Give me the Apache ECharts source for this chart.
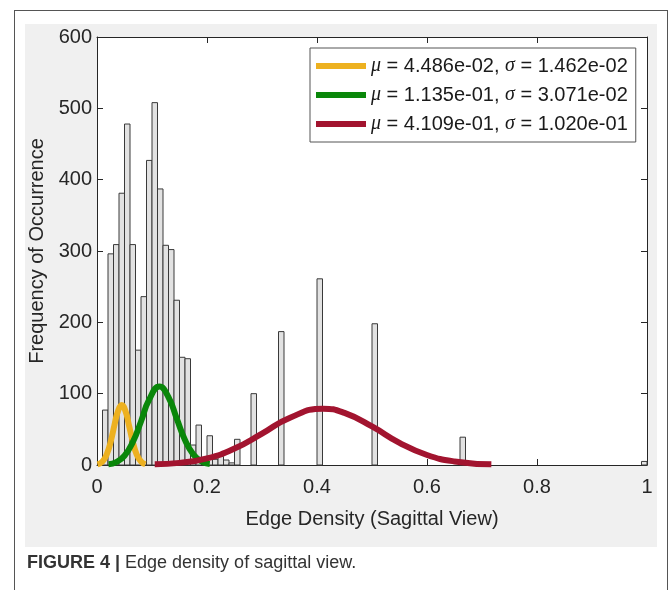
<html lang="en">
  <head>
    <meta charset="UTF-8" />
    <title>Edge density of sagittal view</title>
    <style>
      body { margin: 0; background: #fff; }
      #frame { position: absolute; left: 14px; top: 10px; width: 652px; height: 620px; border: 1px solid #555; }
      #panel { position: absolute; left: 25px; top: 24px; width: 632px; height: 523px; background: #f0f0f0; }
      #main { position: absolute; left: 0; top: 0; width: 669px; height: 590px; }
    </style>
  </head>
  <body>
    <div id="frame"></div>
    <div id="panel"></div>
    <div id="main"></div>

    <script src="https://cdn.jsdelivr.net/npm/echarts@6/dist/echarts.min.js"></script>
    <script>
      // histogram bins (left edge) and counts, bin width 0.01
      let binWidth = 0.01
      let binLeft = [0.01, 0.02, 0.03, 0.04, 0.05, 0.06, 0.07, 0.08, 0.09, 0.10,
        0.11, 0.12, 0.13, 0.14, 0.15, 0.16, 0.17, 0.18, 0.19, 0.20,
        0.21, 0.22, 0.23, 0.24, 0.25, 0.28, 0.33, 0.40, 0.50, 0.66, 0.99]
      let binCount = [77, 296, 309, 381, 478, 309, 161, 236, 427, 508,
        387, 308, 302, 231, 151, 149, 28, 56, 6, 41,
        8, 12, 7, 3, 36, 100, 187, 261, 198, 39, 5]

      // fitted curves, points
      let yellowX = [0.001, 0.010, 0.018, 0.025, 0.032, 0.038, 0.045, 0.052, 0.058, 0.065, 0.072, 0.080, 0.088]
      let yellowY = [0.9, 4.9, 15.5, 33, 57, 75, 84, 75, 56, 33, 15, 5, 1]
      let greenX = [0.021, 0.035, 0.050, 0.065, 0.080, 0.095, 0.1135, 0.130, 0.145, 0.160, 0.175, 0.190, 0.205]
      let greenY = [1.2, 4, 13, 32, 61, 92, 110, 95, 65, 35, 15, 5, 1.3]
      let redX = [0.105, 0.15, 0.20, 0.25, 0.30, 0.35, 0.411, 0.45, 0.50, 0.55, 0.60, 0.65, 0.717]
      let redY = [0.9, 3, 9.3, 23, 44, 66, 79, 73, 54, 31, 14, 5, 0.9]

      let muText = ['4.486e-02', '1.135e-01', '4.109e-01']
      let sigmaText = ['1.462e-02', '3.071e-02', '1.020e-01']
      let curveColors = ['#EDB120', '#0A870A', '#A2142F']

      let xTicks = { min: 0, max: 1, interval: 0.2 }
      let yTicks = { min: 0, max: 600, interval: 100 }

      let names = muText.map((m, i) => 'μ = ' + m + ', σ = ' + sigmaText[i])
      let toPairs = (xs, ys) => xs.map((x, i) => [x, ys[i]])

      let axisColor = '#262626'
      let font = 'Liberation Sans, Arial, sans-serif'

      // box-style axis: ticks inside, line never moved to zero
      function boxAxis(extra, isX) {
        return Object.assign({
          type: 'value',
          min: isX ? xTicks.min : yTicks.min,
          max: isX ? xTicks.max : yTicks.max,
          interval: isX ? xTicks.interval : yTicks.interval,
          axisLine: { show: true, onZero: false, lineStyle: { color: axisColor, width: 1 } },
          axisTick: { show: true, inside: true, length: 6, lineStyle: { color: axisColor } },
          splitLine: { show: false },
          axisLabel: { show: false }
        }, extra)
      }

      let myChart = echarts.init(document.getElementById('main'))
      let option = {
        animation: false,
        grid: { left: 97, right: 22, top: 37, bottom: 125, show: true, backgroundColor: '#fff', borderWidth: 0 },
        xAxis: [
          boxAxis({
            position: 'bottom',
            name: 'Edge Density (Sagittal View)',
            nameLocation: 'middle',
            nameGap: 44,
            nameTextStyle: { fontSize: 20, color: axisColor, fontFamily: font },
            axisLabel: {
              show: true, fontSize: 20, color: axisColor, fontFamily: font, margin: 12,
              formatter: v => (v === 0 || v === 1) ? String(v) : v.toFixed(1)
            }
          }, true),
          boxAxis({ position: 'top' }, true)
        ],
        yAxis: [
          boxAxis({
            position: 'left',
            name: 'Frequency of Occurrence',
            nameLocation: 'middle',
            nameGap: 48,
            nameTextStyle: { fontSize: 20, color: axisColor, fontFamily: font },
            axisLabel: { show: true, fontSize: 20, color: axisColor, fontFamily: font, margin: 5 }
          }, false),
          boxAxis({ position: 'right' }, false)
        ],
        legend: {
          orient: 'vertical',
          left: 310,
          top: 48,
          data: names,
          icon: 'rect',
          itemWidth: 50,
          itemHeight: 6,
          itemGap: 9,
          padding: [8, 8, 8, 6],
          backgroundColor: '#fff',
          borderColor: '#555',
          borderWidth: 1,
          borderRadius: 0,
          textStyle: {
            fontSize: 20, color: '#1a1a1a', fontFamily: font,
            rich: { g: { fontStyle: 'italic', fontFamily: 'Liberation Serif, serif', fontSize: 20, color: '#1a1a1a' } }
          },
          formatter: name => {
            let i = names.indexOf(name)
            return '{g|μ} = ' + muText[i] + ', {g|σ} = ' + sigmaText[i]
          }
        },
        graphic: [
          {
            type: 'text',
            left: 27,
            top: 554,
            style: {
              text: '{b|FIGURE 4 |} Edge density of sagittal view.',
              fontSize: 18,
              fontFamily: 'Liberation Sans Narrow, Arial Narrow, sans-serif',
              fill: '#333',
              rich: {
                b: { fontWeight: 'bold', fontSize: 18, fontFamily: 'Liberation Sans Narrow, Arial Narrow, sans-serif', color: '#333' }
              }
            }
          }
        ],
        series: [
          {
            type: 'custom',
            name: 'histogram',
            xAxisIndex: 0,
            yAxisIndex: 0,
            data: toPairs(binLeft, binCount),
            encode: { x: 0, y: 1 },
            renderItem: function (params, api) {
              let x0 = api.value(0)
              let p0 = api.coord([x0, 0])
              let p1 = api.coord([x0 + binWidth, api.value(1)])
              return {
                type: 'rect',
                shape: { x: p0[0], y: p1[1], width: p1[0] - p0[0], height: p0[1] - p1[1] },
                style: { fill: '#e2e2e2', stroke: '#3a3a3a', lineWidth: 1 }
              }
            }
          },
          ...[[yellowX, yellowY], [greenX, greenY], [redX, redY]].map((xy, i) => ({
            type: 'line',
            name: names[i],
            xAxisIndex: 0,
            yAxisIndex: 0,
            data: toPairs(xy[0], xy[1]),
            smooth: true,
            showSymbol: false,
            color: curveColors[i],
            lineStyle: { width: 6, color: curveColors[i] },
            z: 3 + i
          }))
        ]
      }
      myChart.setOption(option)
    </script>
  </body>
</html>
